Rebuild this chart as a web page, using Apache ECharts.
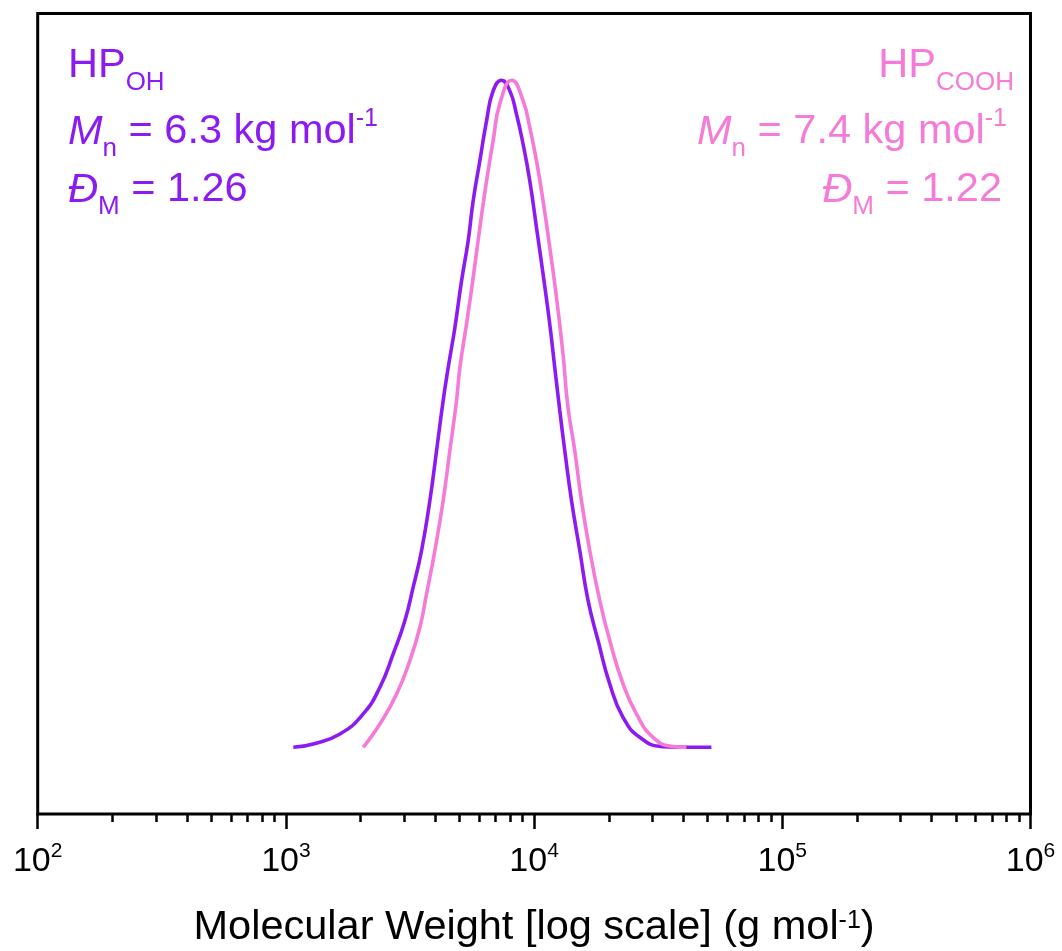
<!DOCTYPE html>
<html>
<head>
<meta charset="utf-8">
<script src="https://cdn.jsdelivr.net/npm/echarts@6/dist/echarts.min.js"></script>
<style>
  html, body { margin: 0; padding: 0; background: #ffffff; }
  #chart { width: 1062px; height: 951px; }
</style>
</head>
<body>
<div id="chart"></div>
<script>
// ---- Data ----
const purpleMW = [1071, 1290, 1651, 2049, 2392, 2706, 3017, 3257, 3521, 3803, 4047, 4302, 4506, 4795, 5101, 5423, 5681, 6044, 6433, 6839, 7393, 7984, 8495, 9031, 9609, 10226, 10870, 11567, 12114, 12690, 13290, 14146, 15276, 16503, 18097, 20170, 22820, 26650, 33060, 42350, 51800];
const purpleIntensity = [0, 0.005, 0.020, 0.050, 0.090, 0.140, 0.190, 0.240, 0.295, 0.370, 0.445, 0.520, 0.569, 0.629, 0.699, 0.759, 0.819, 0.879, 0.939, 0.984, 1.0, 0.984, 0.949, 0.904, 0.849, 0.779, 0.709, 0.634, 0.569, 0.505, 0.445, 0.370, 0.295, 0.220, 0.160, 0.095, 0.045, 0.015, 0.001, 0, 0];

const pinkMW = [2049, 2392, 2793, 3159, 3466, 3688, 3983, 4302, 4577, 4871, 5022, 5344, 5681, 6044, 6433, 6839, 7277, 8135, 9031, 9609, 10226, 10870, 11567, 12310, 13080, 13670, 14580, 15510, 16760, 18390, 20170, 22820, 25840, 30140, 36270, 41070];
const pinkIntensity = [0, 0.035, 0.080, 0.130, 0.180, 0.230, 0.295, 0.370, 0.445, 0.520, 0.569, 0.635, 0.704, 0.779, 0.849, 0.909, 0.965, 1.0, 0.969, 0.929, 0.879, 0.819, 0.749, 0.674, 0.589, 0.512, 0.445, 0.370, 0.295, 0.220, 0.160, 0.095, 0.050, 0.015, 0.001, 0];

const xMin = 100, xMax = 1000000;
const minorTickMW = [200, 300, 400, 500, 600, 700, 800, 900,
                     2000, 3000, 4000, 5000, 6000, 7000, 8000, 9000,
                     20000, 30000, 40000, 50000, 60000, 70000, 80000, 90000,
                     200000, 300000, 400000, 500000, 600000, 700000, 800000, 900000];

const purpleLabel = ['HP', 'OH', '6.3 kg mol', '1.26'];
const pinkLabel = ['HP', 'COOH', '7.4 kg mol', '1.22'];

// ---- Styles ----
const FONT = "'Liberation Sans', Arial, Helvetica, sans-serif";
const PURPLE = '#8C1BF2';
const PINK = '#F67AD7';

function zip(xs, ys) { return xs.map((x, i) => [x, ys[i]]); }

function annoRich(color) {
  return {
    m:   { fill: color, fontSize: 41.5, fontFamily: FONT, lineHeight: 80 },
    i:   { fill: color, fontSize: 41.5, fontFamily: FONT, fontStyle: 'italic', lineHeight: 80 },
    sub: { fill: color, fontSize: 26, fontFamily: FONT, padding: [34, 0, 0, 0], lineHeight: 30 },
    sup: { fill: color, fontSize: 25, fontFamily: FONT, padding: [0, 0, 25, 0], lineHeight: 30 }
  };
}
function anno(text, x, y, color, align) {
  return {
    type: 'text', x: x, y: y, z: 100,
    style: {
      text: text, rich: annoRich(color), fill: color,
      font: '41.5px ' + FONT,
      align: align, verticalAlign: 'middle',
      textAlign: align, textVerticalAlign: 'middle'
    }
  };
}

const chart = echarts.init(document.getElementById('chart'), null, { renderer: 'canvas' });

const option = {
  animation: false,
  backgroundColor: '#ffffff',
  grid: {
    left: 37.7, top: 13.5, width: 992.8, height: 800.5,
    show: true, borderColor: '#000', borderWidth: 3, backgroundColor: 'transparent',
    outerBoundsMode: 'none'
  },
  xAxis: [
    {
      type: 'log', logBase: 10, min: xMin, max: xMax, splitNumber: 4,
      position: 'bottom',
      axisLine: { show: false, onZero: false },
      axisTick: { show: true, inside: false, length: 15, lineStyle: { color: '#000', width: 2.5 } },
      splitLine: { show: false },
      axisLabel: {
        show: true, margin: 27,
        formatter: function (v) {
          const e = Math.round(Math.log10(v));
          return '{tbase|10}{texp|' + e + '}';
        },
        rich: {
          tbase: { fontSize: 34, fontFamily: FONT, color: '#000' },
          texp: { fontSize: 21, fontFamily: FONT, color: '#000', padding: [0, 0, 20, 0] }
        }
      },
      name: '{m|Molecular Weight [log scale] (g mol}{sup|-1}{m|)}',
      nameLocation: 'middle',
      nameGap: 90,
      nameTextStyle: {
        rich: {
          m: { fontSize: 41.5, fontFamily: FONT, color: '#000', lineHeight: 48 },
          sup: { fontSize: 25, fontFamily: FONT, color: '#000', lineHeight: 28, padding: [0, 0, 14, 0] }
        }
      }
    },
    {
      type: 'value', min: Math.log10(xMin), max: Math.log10(xMax),
      position: 'bottom', offset: 0,
      axisLine: { show: false, onZero: false },
      axisLabel: { show: false },
      splitLine: { show: false },
      axisTick: {
        show: true, inside: false, length: 8,
        customValues: minorTickMW.map(v => Math.log10(v)),
        lineStyle: { color: '#000', width: 2.5 }
      }
    }
  ],
  yAxis: {
    type: 'value', min: -0.1, max: 1.1,
    axisLine: { show: false, onZero: false }, axisTick: { show: false },
    axisLabel: { show: false }, splitLine: { show: false }
  },
  series: [
    {
      name: 'HP_OH', type: 'line', xAxisIndex: 0,
      data: zip(purpleMW, purpleIntensity),
      showSymbol: false, smooth: 0.5,
      lineStyle: { color: PURPLE, width: 3.6 },
      itemStyle: { color: PURPLE }
    },
    {
      name: 'HP_COOH', type: 'line', xAxisIndex: 0,
      data: zip(pinkMW, pinkIntensity),
      showSymbol: false, smooth: 0.5,
      lineStyle: { color: PINK, width: 3.6 },
      itemStyle: { color: PINK }
    }
  ],
  graphic: [
    anno('{m|' + purpleLabel[0] + '}{sub|' + purpleLabel[1] + '}', 68, 66, PURPLE, 'left'),
    anno('{i|M}{sub|n}{m| = ' + purpleLabel[2] + '}{sup|-1}', 68, 132, PURPLE, 'left'),
    anno('{i|Đ}{sub|M}{m| = ' + purpleLabel[3] + '}', 68, 190, PURPLE, 'left'),
    anno('{m|' + pinkLabel[0] + '}{sub|' + pinkLabel[1] + '}', 1014, 66, PINK, 'right'),
    anno('{i|M}{sub|n}{m| = ' + pinkLabel[2] + '}{sup|-1}', 1007, 132, PINK, 'right'),
    anno('{i|Đ}{sub|M}{m| = ' + pinkLabel[3] + '}', 1002, 190, PINK, 'right')
  ]
};

chart.setOption(option);
</script>
</body>
</html>
